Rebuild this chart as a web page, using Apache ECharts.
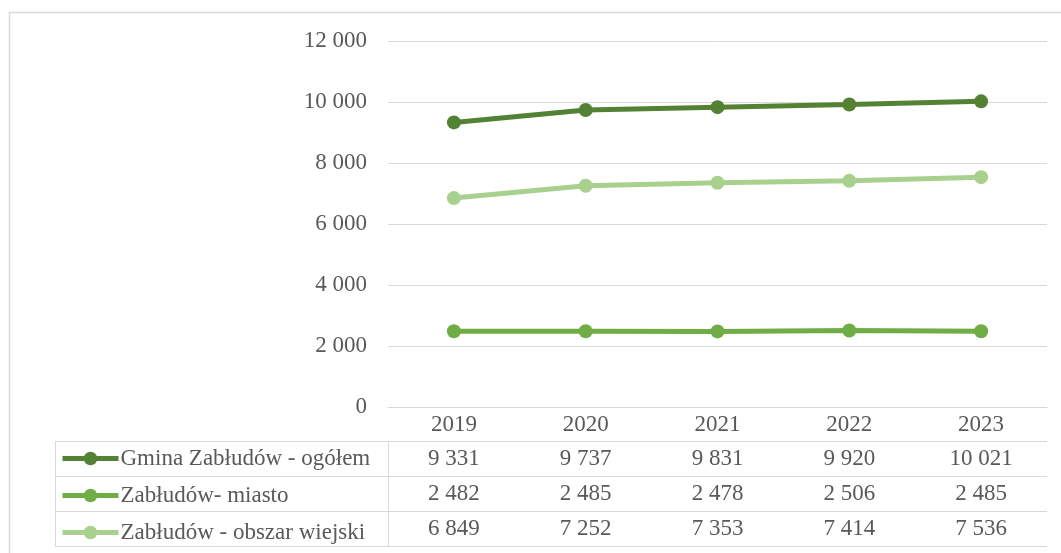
<!DOCTYPE html>
<html>
<head>
<meta charset="utf-8">
<script src="https://cdn.jsdelivr.net/npm/echarts@6/dist/echarts.min.js"></script>
<style>
  html, body { margin: 0; padding: 0; background: #fff; }
  #chart { width: 1061px; height: 553px; }
</style>
</head>
<body>
<div id="chart"></div>
<script>
const years = ['2019', '2020', '2021', '2022', '2023']
const seriesNames = ['Gmina Zabłudów - ogółem', 'Zabłudów- miasto', 'Zabłudów - obszar wiejski']
const gminaTotal = [9331, 9737, 9831, 9920, 10021]
const miasto = [2482, 2485, 2478, 2506, 2485]
const obszarWiejski = [6849, 7252, 7353, 7414, 7536]
const yMin = 0
const yMax = 12000
const yStep = 2000

const colors = ['#548235', '#70ad47', '#a9d18e']
const textColor = '#595959'
const gridColor = '#d9d9d9'
const font = '"Liberation Serif", "Times New Roman", serif'
const fontSize = 23

const fmt = v => String(v).replace(/\B(?=(\d{3})+(?!\d))/g, ' ')

const chart = echarts.init(document.getElementById('chart'))

const allSeries = [gminaTotal, miasto, obszarWiejski]

const option = {
  animation: false,
  textStyle: { fontFamily: font },
  grid: { left: 388, right: 14, top: 41, bottom: 146 },
  legend: {
    orient: 'vertical',
    left: 55,
    top: 442,
    itemWidth: 56,
    itemHeight: 17,
    itemGap: 14,
    lineStyle: { width: 5 },
    textStyle: { fontFamily: font, fontSize: fontSize, color: textColor, lineHeight: 21, padding: [0, 0, 0, -3] },
    data: seriesNames
  },
  xAxis: {
    type: 'category',
    data: years,
    boundaryGap: true,
    axisLine: { lineStyle: { color: gridColor, width: 1 } },
    axisTick: { length: 140, lineStyle: { color: gridColor, width: 1 } },
    axisLabel: { color: textColor, fontSize: fontSize, fontFamily: font, margin: 6 }
  },
  yAxis: {
    type: 'value',
    min: yMin,
    max: yMax,
    interval: yStep,
    axisLine: { show: false },
    axisTick: { show: false },
    axisLabel: { color: textColor, fontSize: fontSize, fontFamily: font, margin: 21, formatter: fmt },
    splitLine: { lineStyle: { color: gridColor, width: 1 } }
  },
  series: allSeries.map((d, i) => ({
    name: seriesNames[i],
    type: 'line',
    data: d,
    color: colors[i],
    symbol: 'circle',
    symbolSize: 14,
    lineStyle: { width: 5, color: colors[i] },
    itemStyle: { color: colors[i] }
  }))
}

chart.setOption(option)

// data table under the axis
const axisY = chart.convertToPixel({ yAxisIndex: 0 }, 0)
const plotLeft = 388
const plotRight = 1061 - 14
const tableLeft = 55
const rowH = 35
const headerH = 34
const rowTops = [0, 1, 2, 3].map(k => axisY + headerH + k * rowH)

const graphics = []
const lineStyle = { stroke: gridColor, lineWidth: 1 }

// outer chart border
graphics.push({ type: 'rect', shape: { x: 9.5, y: 12.5, width: 1200, height: 700 }, style: { fill: null, stroke: gridColor, lineWidth: 1.5 }, z: -1 })

rowTops.forEach(y => {
  graphics.push({ type: 'line', shape: { x1: tableLeft, y1: Math.round(y) + 0.5, x2: plotRight, y2: Math.round(y) + 0.5 }, style: lineStyle })
})
graphics.push({ type: 'line', shape: { x1: tableLeft + 0.5, y1: rowTops[0], x2: tableLeft + 0.5, y2: rowTops[3] }, style: lineStyle })
graphics.push({ type: 'line', shape: { x1: plotLeft + 0.5, y1: rowTops[0], x2: plotLeft + 0.5, y2: rowTops[3] }, style: lineStyle })

allSeries.forEach((d, r) => {
  d.forEach((v, c) => {
    const x = chart.convertToPixel({ xAxisIndex: 0 }, c)
    graphics.push({
      type: 'text',
      x: x,
      y: rowTops[r] + rowH / 2,
      style: { text: fmt(v), fill: textColor, font: fontSize + 'px ' + font, align: 'center', verticalAlign: 'middle' }
    })
  })
})

chart.setOption({ graphic: graphics })

window.addEventListener('resize', () => {
  chart.resize()
})
</script>
</body>
</html>
